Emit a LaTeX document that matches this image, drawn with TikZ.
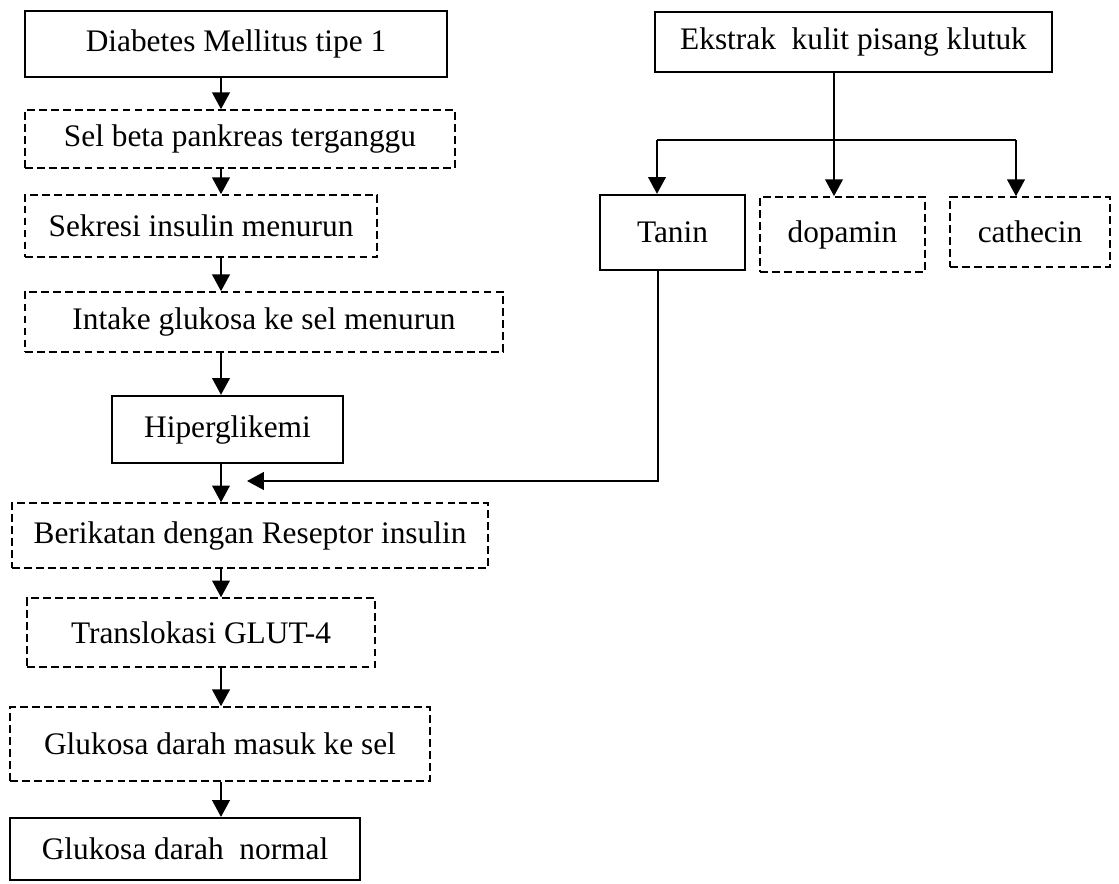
\documentclass[tikz,border=0pt]{standalone}
\usepackage{fontspec}
\setmainfont{Liberation Serif}
\usetikzlibrary{arrows.meta}
\tikzset{
  every picture/.style={line join=miter, >={Triangle[length=0.42cm,width=0.44cm]}},
  solidbox/.style={draw, line width=1.5pt, inner sep=0pt, font=\fontsize{22.3}{26}\selectfont},
  dashbox/.style={draw, line width=1.1pt, dash pattern=on 5.5pt off 3pt, inner sep=0pt, font=\fontsize{22.3}{26}\selectfont},
  link/.style={line width=1.5pt},
}

\begin{document}
\begin{tikzpicture}[x=0.025cm,y=-0.025cm]
\useasboundingbox (0,0) rectangle (1119,883);
% left column
\node[solidbox,minimum width=10.55cm,minimum height=1.65cm](dm) at (236,44) {Diabetes Mellitus tipe 1};
\node[dashbox,minimum width=10.75cm,minimum height=1.45cm](sb) at (240,139) {Sel beta pankreas terganggu};
\node[dashbox,minimum width=8.8cm,minimum height=1.55cm](si) at (201,226) {Sekresi insulin menurun};
\node[dashbox,minimum width=11.95cm,minimum height=1.5cm](ig) at (264,322) {Intake glukosa ke sel menurun};
\node[solidbox,minimum width=5.78cm,minimum height=1.68cm](hg) at (227.5,429.5) {Hiperglikemi};
\node[dashbox,minimum width=11.9cm,minimum height=1.62cm](br) at (250,535.5) {Berikatan dengan Reseptor insulin};
\node[dashbox,minimum width=8.7cm,minimum height=1.72cm](tg) at (201,632.5) {Translokasi GLUT-4};
\node[dashbox,minimum width=10.5cm,minimum height=1.85cm](gm) at (220,744) {Glukosa darah masuk ke sel};
\node[solidbox,minimum width=8.75cm,minimum height=1.55cm](gn) at (185,849) {Glukosa darah\ \ normal};
% right part
\node[solidbox,minimum width=9.92cm,minimum height=1.5cm](ek) at (853.5,42) {Ekstrak\ \ kulit pisang klutuk};
\node[solidbox,minimum width=3.62cm,minimum height=1.88cm](tn) at (672.5,232.5) {Tanin};
\node[dashbox,minimum width=4.12cm,minimum height=1.88cm](dp) at (842.5,234.5) {dopamin\hspace{0.4cm}};
\node[dashbox,minimum width=4cm,minimum height=1.75cm](ct) at (1030,232) {cathecin\hspace{0.7cm}};
% connectors
\coordinate (spine) at (221,0);
\draw[link,->](dm.south -| spine)--(sb.north -| spine);
\draw[link,->](sb.south -| spine)--(si.north -| spine);
\draw[link,->](si.south -| spine)--(ig.north -| spine);
\draw[link,->](ig.south -| spine)--(hg.north -| spine);
\draw[link,->](hg.south -| spine)--(br.north -| spine);
\draw[link,->](br.south -| spine)--(tg.north -| spine);
\draw[link,->](tg.south -| spine)--(gm.north -| spine);
\draw[link,->](gm.south -| spine)--(gn.north -| spine);
\coordinate (fork) at (834,140);
\coordinate (lx) at (657,140);
\coordinate (rx) at (1016,140);
\draw[link,->](ek.south -| fork)--(dp.north -| fork);
\draw[link](lx)--(rx);
\draw[link,->](lx)--(tn.north -| lx);
\draw[link,->](rx)--(ct.north -| rx);
\coordinate (tx) at (658,0);
\coordinate (join) at (247,481);
\draw[link,->](tn.south -| tx) |- (join);
\end{tikzpicture}
\end{document}
